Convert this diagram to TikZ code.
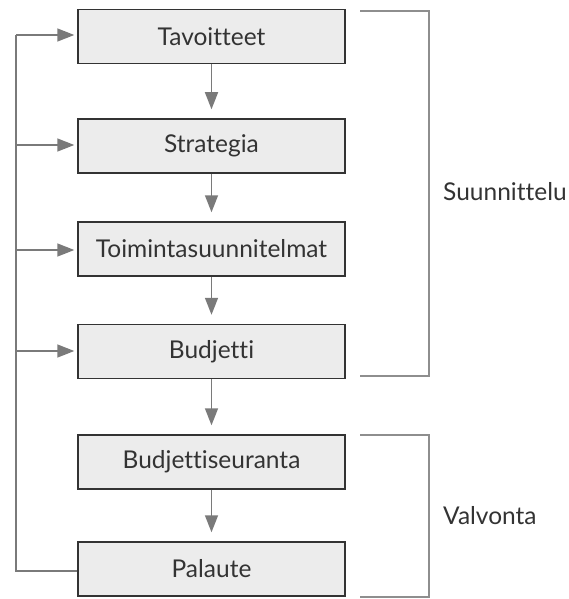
\documentclass[tikz,border=0pt]{standalone}
\usepackage{fontspec}
\setmainfont{Lato}[Ligatures={NoCommon}]
\usetikzlibrary{arrows.meta}
\definecolor{boxfill}{HTML}{ECECEC}
\definecolor{boxline}{HTML}{333333}
\definecolor{conn}{HTML}{7A7A7A}
\begin{document}
\begin{tikzpicture}[x=1pt,y=-1pt,
  stepbox/.style={draw=boxline,line width=1.5pt,fill=boxfill,minimum width=267pt,minimum height=54pt,inner sep=0pt,font=\fontsize{24.5}{28}\selectfont,text=boxline},
  flow/.style={draw=conn,line width=1.7pt,-{Triangle[length=17pt,width=13pt]}},
  vflow/.style={flow,shorten >=9pt},
  hflow/.style={flow,shorten >=3pt},
  plain/.style={draw=conn,line width=1.7pt},
  brack/.style={draw=conn!85,line width=1.4pt},
  lab/.style={font=\fontsize{24.5}{28}\selectfont,text=boxline,anchor=west,inner sep=0pt}]
\useasboundingbox (0,0) rectangle (568,599);
\node[stepbox] (t) at (211.5,36.5) {Tavoitteet};
\node[stepbox] (s) at (211.5,146) {Strategia};
\node[stepbox] (ts) at (211.5,249) {Toimintasuunnitelmat};
\node[stepbox] (b) at (211.5,351.5) {Budjetti};
\node[stepbox] (bs) at (211.5,462) {Budjettiseuranta};
\node[stepbox] (p) at (211.5,569) {Palaute};
\draw[vflow] (t) -- (s);
\draw[vflow] (s) -- (ts);
\draw[vflow] (ts) -- (b);
\draw[vflow] (b) -- (bs);
\draw[vflow] (bs) -- (p);
\coordinate (fb) at (16,571);
\coordinate (ft) at (16,35);
\draw[plain] (p.west |- fb) -- (fb) -- (ft);
\draw[hflow] (ft) -- (t.west |- ft);
\draw[hflow] (16,145) -- (s.west |- 0,145);
\draw[hflow] (16,250) -- (ts.west |- 0,250);
\draw[hflow] (16,351) -- (b.west |- 0,351);
\coordinate (s1) at (360,11);
\coordinate (s2) at (429,11);
\coordinate (s3) at (429,376);
\coordinate (s4) at (360,376);
\draw[brack] (s1) -- (s2) -- (s3) -- (s4);
\coordinate (v1) at (360,435);
\coordinate (v2) at (429,435);
\coordinate (v3) at (429,597);
\coordinate (v4) at (360,597);
\draw[brack] (v1) -- (v2) -- (v3) -- (v4);
\node[lab] (sl) at (443,192) {Suunnittelu};
\node[lab] (vl) at (443,516) {Valvonta};
\end{tikzpicture}
\end{document}
